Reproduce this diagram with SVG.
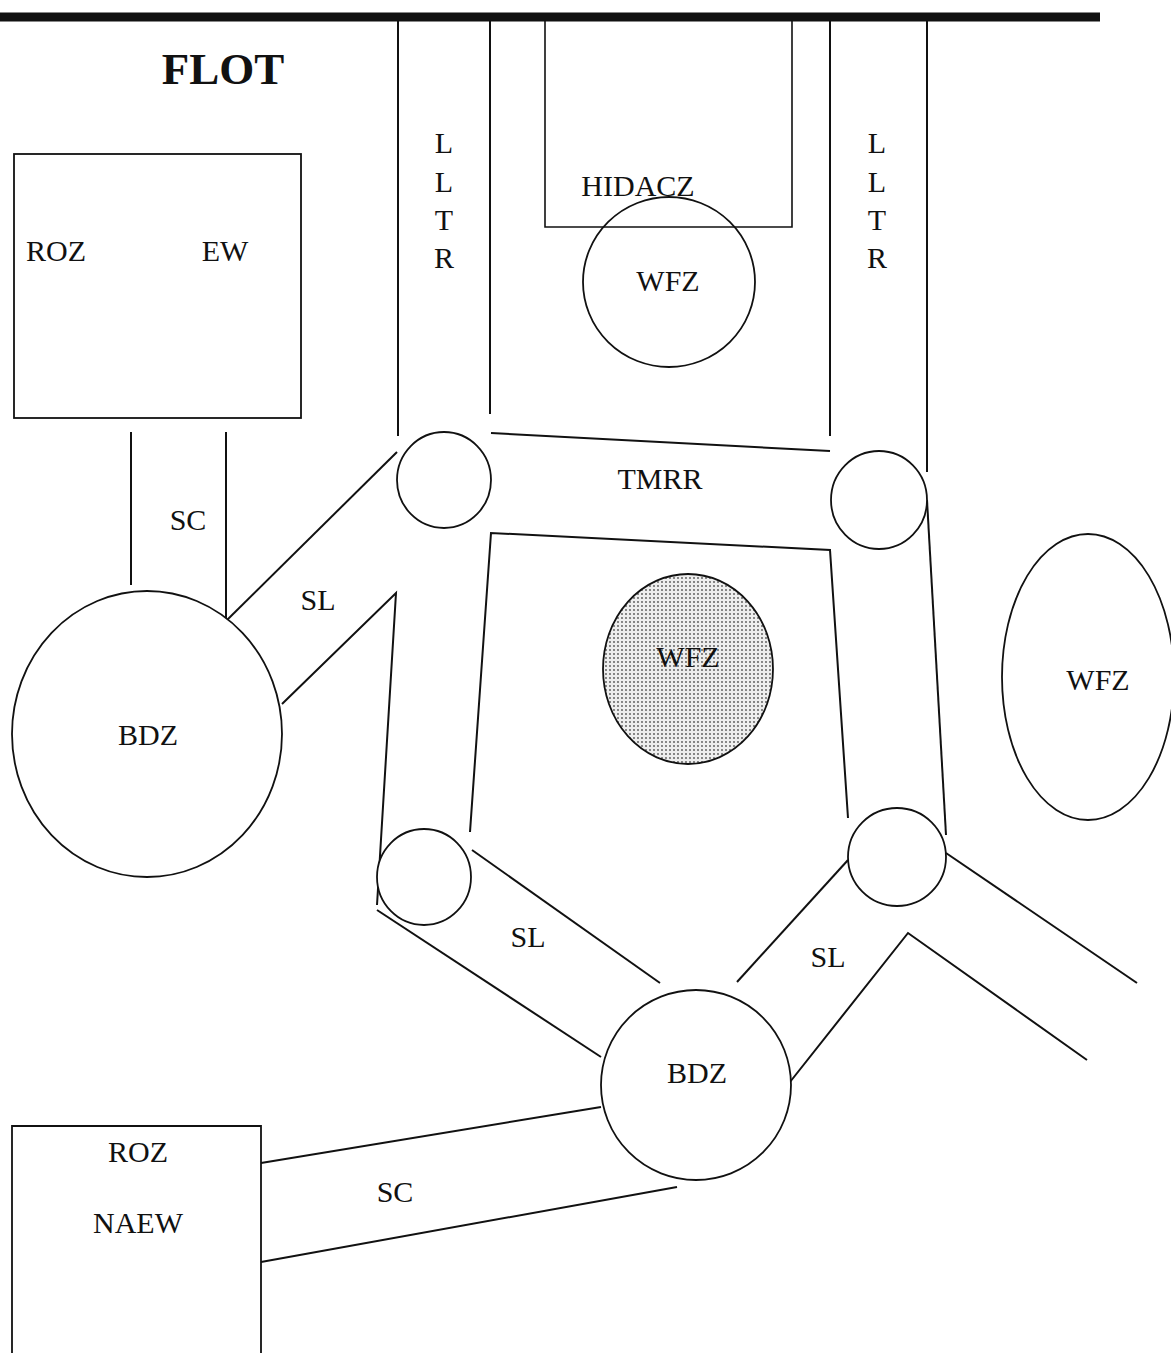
<svg xmlns="http://www.w3.org/2000/svg" width="1171" height="1353" viewBox="0 0 1171 1353">
<style>
.s{fill:none;stroke:#111;stroke-width:2}
.n{fill:#fff;stroke:#111;stroke-width:1.8}
.t{font-family:"Liberation Serif","Times New Roman",serif;font-size:30px;fill:#111;text-anchor:middle}
</style>
<defs>
<pattern id="dots" width="4" height="4" patternUnits="userSpaceOnUse">
<rect width="4" height="4" fill="#eeeeee"/>
<circle cx="2" cy="2" r="0.9" fill="#555"/>
</pattern>
</defs>
<rect width="1171" height="1353" fill="#fff"/>
<line x1="0" y1="17" x2="1100" y2="17" stroke="#111" stroke-width="9"/>
<text x="223" y="84" class="t" style="font-size:45px;font-weight:bold">FLOT</text>

<g id="connectors">
<line class="s" x1="398" y1="20" x2="398" y2="436"/>
<line class="s" x1="490" y1="20" x2="490" y2="414"/>
<line class="s" x1="830" y1="20" x2="830" y2="436"/>
<line class="s" x1="927" y1="20" x2="927" y2="472"/>
<line class="s" x1="131" y1="432" x2="131" y2="585"/>
<line class="s" x1="226" y1="432" x2="226" y2="621"/>
<polyline class="s" points="226,621 397,452"/>
<polyline class="s" points="282,704 396,593 377,905"/>
<line class="s" x1="491" y1="433" x2="830" y2="451"/>
<polyline class="s" points="470,832 491,533 830,550 848,818"/>
<line class="s" x1="927" y1="500" x2="946" y2="835"/>
<line class="s" x1="472" y1="850" x2="660" y2="983"/>
<line class="s" x1="377" y1="910" x2="601" y2="1057"/>
<line class="s" x1="848" y1="860" x2="737" y2="982"/>
<polyline class="s" points="790,1082 908,933 1087,1060"/>
<line class="s" x1="946" y1="853" x2="1137" y2="983"/>
<line class="s" x1="261" y1="1163" x2="601" y2="1107"/>
<line class="s" x1="261" y1="1262" x2="677" y2="1187"/>
</g>

<g id="roz-ew">
<rect class="n" x="14" y="154" width="287" height="264"/>
<text class="t" x="56" y="261">ROZ</text>
<text class="t" x="225" y="261">EW</text>
</g>
<text class="t" x="188" y="530">SC</text>
<text class="t" x="318" y="610">SL</text>

<g id="bdz-left">
<ellipse class="n" cx="147" cy="734" rx="135" ry="143"/>
<text class="t" x="148" y="745">BDZ</text>
</g>

<g id="lltr-left">
<text class="t" x="444" y="153">L</text>
<text class="t" x="444" y="192">L</text>
<text class="t" x="444" y="230">T</text>
<text class="t" x="444" y="268">R</text>
</g>
<g id="lltr-right">
<text class="t" x="877" y="153">L</text>
<text class="t" x="877" y="192">L</text>
<text class="t" x="877" y="230">T</text>
<text class="t" x="877" y="268">R</text>
</g>

<g id="hidacz">
<polyline class="s" points="545,20 545,227 792,227 792,20" style="stroke-width:1.6"/>
<text class="t" x="638" y="196">HIDACZ</text>
</g>
<g id="wfz-top">
<ellipse cx="669" cy="282" rx="86" ry="85" fill="none" stroke="#111" stroke-width="1.8"/>
<text class="t" x="668" y="291">WFZ</text>
</g>

<g id="node-tl"><ellipse class="n" cx="444" cy="480" rx="47" ry="48"/></g>
<g id="node-tr"><ellipse class="n" cx="879" cy="500" rx="48" ry="49"/></g>
<g id="node-bl"><ellipse class="n" cx="424" cy="877" rx="47" ry="48"/></g>
<g id="node-br"><ellipse class="n" cx="897" cy="857" rx="49" ry="49"/></g>

<text class="t" x="660" y="489">TMRR</text>

<g id="wfz-center">
<ellipse cx="688" cy="669" rx="85" ry="95" fill="url(#dots)" stroke="#111" stroke-width="1.8"/>
<text class="t" x="688" y="667">WFZ</text>
</g>
<g id="wfz-right">
<ellipse class="n" cx="1088" cy="677" rx="86" ry="143"/>
<text class="t" x="1098" y="690">WFZ</text>
</g>

<text class="t" x="528" y="947">SL</text>
<text class="t" x="828" y="967">SL</text>

<g id="bdz-bottom">
<ellipse class="n" cx="696" cy="1085" rx="95" ry="95"/>
<text class="t" x="697" y="1083">BDZ</text>
</g>

<g id="roz-naew">
<polyline class="n" points="12,1353 12,1126 261,1126 261,1353"/>
<text class="t" x="138" y="1162">ROZ</text>
<text class="t" x="138" y="1233">NAEW</text>
</g>
<text class="t" x="395" y="1202">SC</text>
</svg>
